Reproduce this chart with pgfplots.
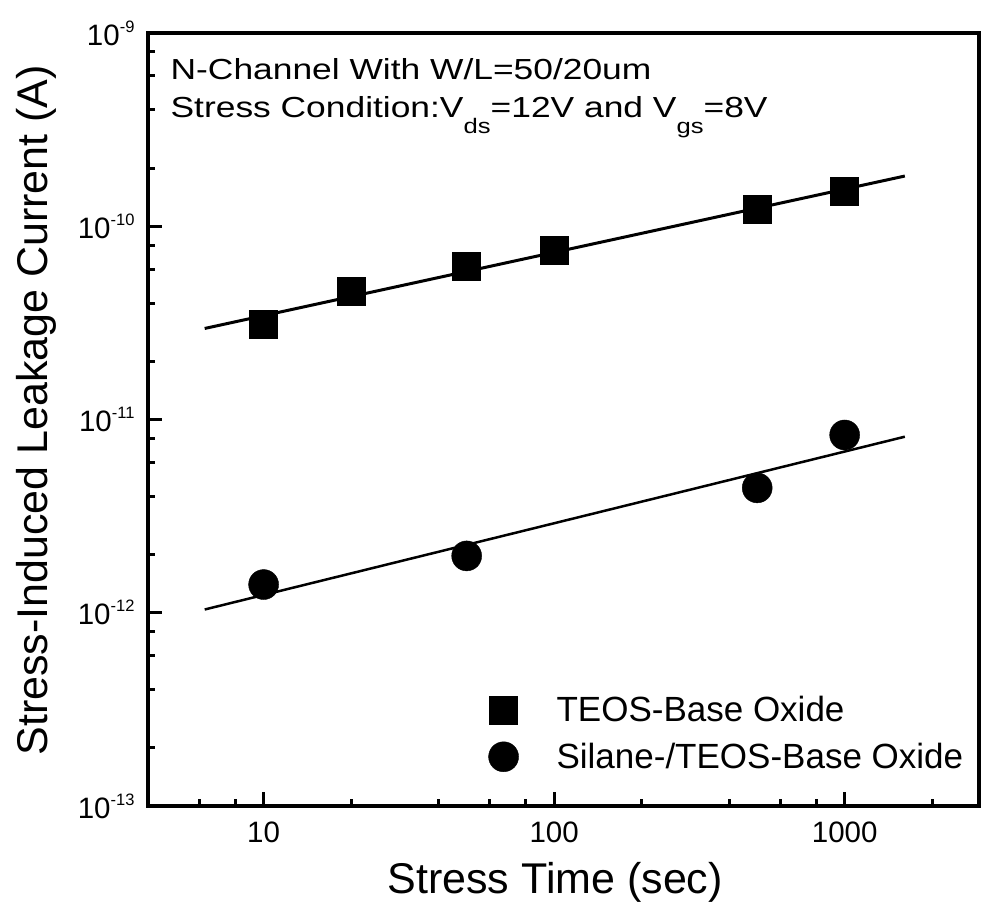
\documentclass[border=0pt]{standalone}
\usepackage{fontspec}
\setmainfont{Liberation Sans}
\newfontfamily\annfont[FakeStretch=1.22]{Liberation Sans}
\usepackage{pgfplots}
\pgfplotsset{compat=1.18}
\usetikzlibrary{calc}
\pgfplotsset{dotlegend/.style={legend image code/.code={\draw[##1] plot coordinates {(0pt,0pt)};}}}
\newcommand{\sups}[1]{\raisebox{13pt}{\fontsize{16.5}{16.5}\selectfont #1}}
\newcommand{\subs}[1]{\raisebox{-16pt}{\fontsize{21}{21}\selectfont #1}}

\begin{document}
\begin{tikzpicture}
\begin{axis}[
    name=ax, scale only axis,
    width=831pt, height=773pt,
    xmode=log, ymode=log,
    xmin=4, xmax=2900, ymin=1e-13, ymax=1e-9,
    xtick={10,100,1000}, xticklabels={10,100,1000},
    minor xtick={6,8,20,40,60,80,200,400,600,800,2000},
    ytick={1e-13,1e-12,1e-11,1e-10,1e-9},
    yticklabels={10\sups{-13},10\sups{-12},10\sups{-11},10\sups{-10},10\sups{-9}},
    minor ytick={2e-13,4e-13,6e-13,8e-13,2e-12,4e-12,6e-12,8e-12,
                 2e-11,4e-11,6e-11,8e-11,2e-10,4e-10,6e-10,8e-10},
    tick align=inside, xtick pos=bottom, ytick pos=left,
    major tick length=14pt, minor tick length=7pt,
    tick style={black, line width=3pt},
    axis line style={line width=4pt},
    ticklabel style={font=\fontsize{29.5}{31}\selectfont},
    xticklabel style={yshift=-12pt},
    yticklabel style={xshift=-10pt},
    xlabel={Stress Time (sec)},
    ylabel={Stress-Induced Leakage Current (A)},
    label style={font=\fontsize{43}{48}\selectfont},
    xlabel style={at={(axis description cs:0.49,-0.1125)}, anchor=base},
    ylabel style={at={(axis description cs:-0.1348,0.512)}, anchor=center},
    legend style={draw=none, fill=none, at={(rel axis cs:0.406,0.1455)},
        anchor=north west, font=\fontsize{35}{40}\selectfont,
        row sep=18pt, column sep=38pt, nodes={inner sep=0pt}},
    legend cell align=left,
]
% TEOS-base oxide
\addplot[only marks, mark=square*, mark size=14pt, black, dotlegend]
    coordinates {(10,3.12e-11) (20,4.62e-11) (50,6.24e-11) (100,7.51e-11) (500,1.23e-10) (1000,1.51e-10)};
\addlegendentry{TEOS-Base Oxide}
% Silane-/TEOS-base oxide
\addplot[only marks, mark=*, mark size=15pt, black, dotlegend]
    coordinates {(10,1.40e-12) (50,1.97e-12) (500,4.43e-12) (1000,8.32e-12)};
\addlegendentry{Silane-/TEOS-Base Oxide}
% fit lines
\addplot[black, line width=3pt, forget plot] coordinates {(6.27,2.96e-11) (1611,1.82e-10)};
\addplot[black, line width=2.5pt, forget plot] coordinates {(6.27,1.04e-12) (1611,8.15e-12)};

\node[anchor=base west, inner sep=0pt, font={\annfont\fontsize{29}{34}\selectfont}]
    at (rel axis cs:0.027,0.9405) {N-Channel With W/L=50/20um};
\node[anchor=base west, inner sep=0pt, font={\annfont\fontsize{29}{34}\selectfont}]
    at (rel axis cs:0.027,0.8913) {Stress Condition:V\subs{ds}=12V and V\subs{gs}=8V};
\end{axis}
\pgfresetboundingbox
\path[use as bounding box] ($(ax.south west)+(-148pt,-98pt)$) rectangle ($(ax.north east)+(2pt,33pt)$);
\end{tikzpicture}
\end{document}
